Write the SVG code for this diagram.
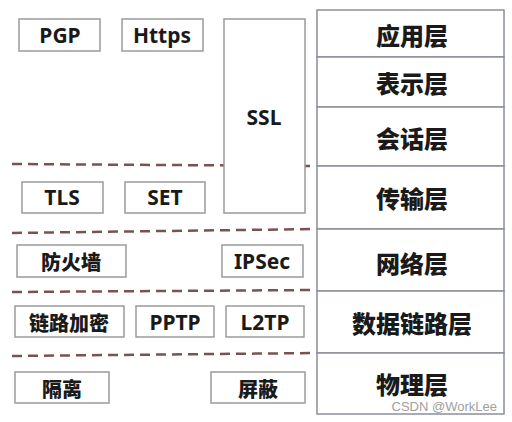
<svg xmlns="http://www.w3.org/2000/svg" width="512" height="422" viewBox="0 0 512 422">
<style>
.box{fill:#fff;stroke:#9a9a9a;stroke-width:1.5}
.layer{fill:#fff;stroke:#8a8f98;stroke-width:1.5}
.t{font-family:"Noto Sans","Noto Sans CJK SC",sans-serif;font-weight:bold;font-size:21px;fill:#1a1a1a;text-anchor:middle;dominant-baseline:central}
.c{font-family:"Noto Sans CJK SC",sans-serif;font-weight:900;font-size:20px;fill:#1a1a1a;text-anchor:middle;dominant-baseline:central}
.lt{font-family:"Noto Sans CJK SC","Noto Sans",sans-serif;font-weight:900;font-size:24px;fill:#1a1a1a;text-anchor:middle;dominant-baseline:central}
.dash{stroke:#7b5252;stroke-width:2.5;stroke-dasharray:10 6;fill:none}
.wm{font-family:"Liberation Sans",sans-serif;font-size:13px;fill:#a0a0a0;text-anchor:end}
</style>
<rect width="512" height="422" fill="#fff"/>
<g id="connectors">
<line class="dash" x1="12" y1="164" x2="316" y2="166"/>
<line class="dash" x1="12" y1="233" x2="316" y2="229"/>
<line class="dash" x1="12" y1="292" x2="316" y2="290"/>
<line class="dash" x1="12" y1="356" x2="316" y2="353"/>
</g>
<g id="layers">
<g id="app"><rect class="layer" x="317" y="10" width="187" height="47"/><text class="lt" x="412" y="34">应用层</text></g>
<g id="pres"><rect class="layer" x="317" y="57" width="187" height="50"/><text class="lt" x="412" y="82">表示层</text></g>
<g id="sess"><rect class="layer" x="317" y="107" width="187" height="59"/><text class="lt" x="412" y="137">会话层</text></g>
<g id="trans"><rect class="layer" x="317" y="166" width="187" height="63"/><text class="lt" x="412" y="197">传输层</text></g>
<g id="net"><rect class="layer" x="317" y="229" width="187" height="62"/><text class="lt" x="412" y="262">网络层</text></g>
<g id="link"><rect class="layer" x="317" y="291" width="187" height="62"/><text class="lt" x="412" y="322">数据链路层</text></g>
<g id="phys"><rect class="layer" x="317" y="353" width="187" height="61"/><text class="lt" x="412" y="383">物理层</text></g>
</g>
<g id="pgp"><rect class="box" x="19" y="19" width="81" height="32"/><text class="t" x="60" y="35">PGP</text></g>
<g id="https"><rect class="box" x="122" y="19" width="81" height="32"/><text class="t" x="162" y="35">Https</text></g>
<g id="ssl"><rect class="box" x="224" y="19" width="81" height="194"/><text class="t" x="264" y="117">SSL</text></g>
<g id="tls"><rect class="box" x="22" y="182" width="81" height="31"/><text class="t" x="62" y="197">TLS</text></g>
<g id="set"><rect class="box" x="125" y="182" width="80" height="31"/><text class="t" x="165" y="197">SET</text></g>
<g id="fw"><rect class="box" x="17" y="245" width="109" height="32"/><text class="c" x="71" y="261">防火墙</text></g>
<g id="ipsec"><rect class="box" x="222" y="245" width="81" height="32"/><text class="t" x="262" y="261">IPSec</text></g>
<g id="linkenc"><rect class="box" x="15" y="306" width="109" height="31"/><text class="c" x="69" y="322">链路加密</text></g>
<g id="pptp"><rect class="box" x="136" y="306" width="78" height="31"/><text class="t" x="175" y="322">PPTP</text></g>
<g id="l2tp"><rect class="box" x="226" y="306" width="78" height="31"/><text class="t" x="265" y="322">L2TP</text></g>
<g id="iso"><rect class="box" x="15" y="372" width="94" height="31"/><text class="c" x="62" y="388">隔离</text></g>
<g id="shield"><rect class="box" x="211" y="372" width="94" height="31"/><text class="c" x="258" y="388">屏蔽</text></g>
<text class="wm" x="497" y="411">CSDN @WorkLee</text>
</svg>
